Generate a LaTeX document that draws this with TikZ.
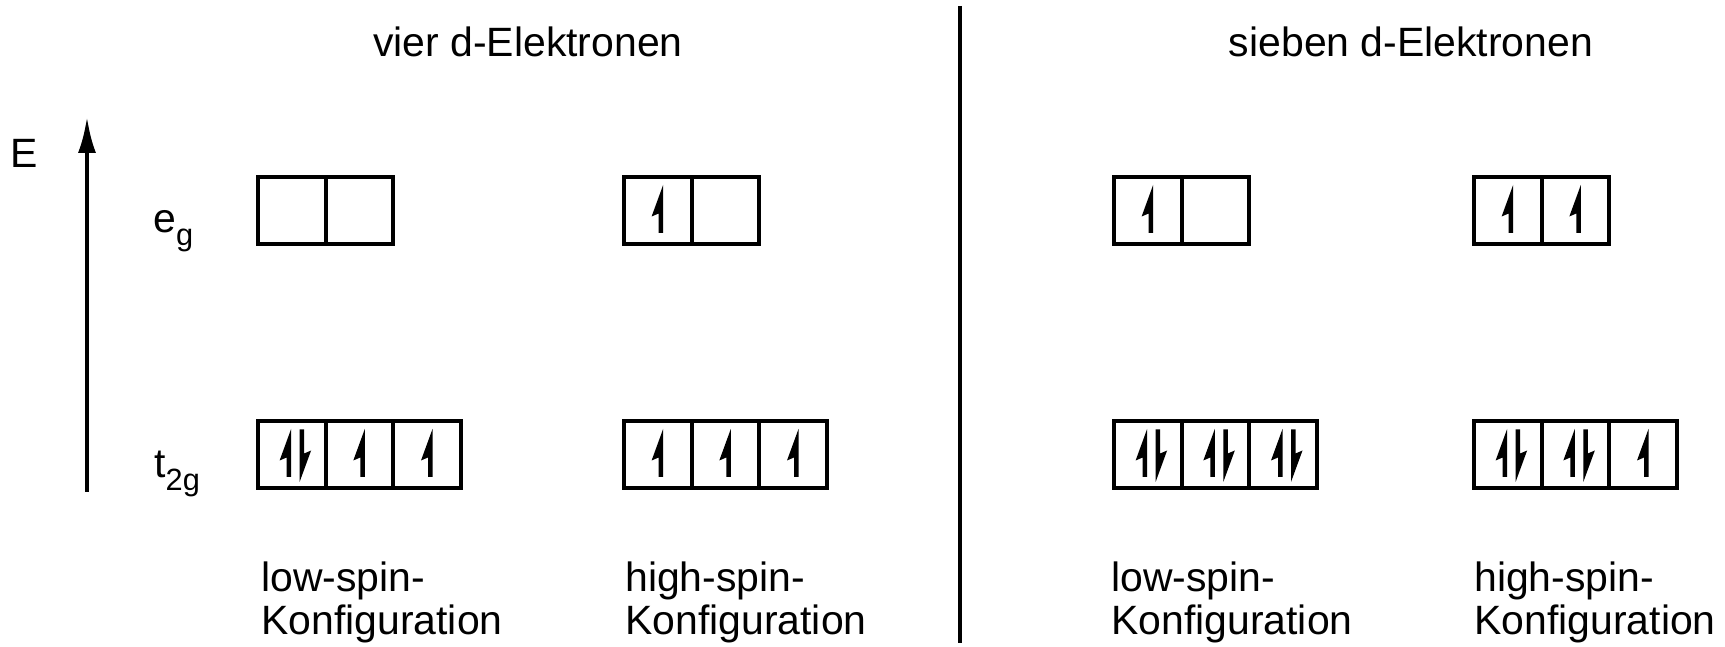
\documentclass[tikz,border=0pt]{standalone}
\usepackage{fontspec}
\setmainfont{Liberation Sans}
\usetikzlibrary{arrows.meta,positioning}

% half arrows for the electrons, drawn at the centre of a cell
\newcommand{\spinup}[2]{%
  \fill[shift={(#1.center)}, xshift=#2] (0.045,-0.45) -- ++(0,0.96) -- ++(-0.23,-0.63) -- ++(0.14,0.06) -- ++(0,-0.39) -- cycle;}
\newcommand{\spindown}[2]{%
  \fill[shift={(#1.center)}, xshift=#2] (-0.045,0.50) -- ++(0,-1.05) -- ++(0.23,0.63) -- ++(-0.14,-0.06) -- ++(0,0.48) -- cycle;}
\newcommand{\spinpair}[1]{\spinup{#1}{-0.06cm}\spindown{#1}{0.2cm}}
\newcommand{\lowidx}[1]{\raisebox{-0.3em}{\fontsize{17.5}{17.5}\selectfont #1}}

\begin{document}
\begin{tikzpicture}[
    cell/.style={draw, line width=0.08cm, minimum width=1.354cm, minimum height=1.34cm, inner sep=0pt, outer sep=0pt},
    lbl/.style={font=\fontsize{23.3}{24.5}\selectfont, inner sep=0pt},
    cfg/.style={lbl, align=left, anchor=base west},
    axis/.style={line width=0.08cm},
  ]
  \useasboundingbox (0,0) rectangle (34.5,12.94);

  % --- Energy axis ---
  \coordinate (ebot) at (1.74,3.1);
  \coordinate (etop) at (1.74,10.6);
  \draw[axis, -{Latex[length=0.72cm, width=0.36cm]}] (ebot) -- (etop);
  \node[lbl] (E) at (0.48,9.88) {E};
  \node[lbl, anchor=base west] (eg) at (3.06,8.28) {e\lowidx{g}};
  \node[lbl, anchor=base west] (t2g) at (3.08,3.38) {t\lowidx{2g}};

  % --- Divider ---
  \coordinate (divtop) at (19.2,12.82);
  \coordinate (divbot) at (19.2,0.08);
  \draw[axis] (divtop) -- (divbot);

  % --- Headings ---
  \node[lbl, anchor=base] (vier) at (10.56,11.8) {vier d-Elektronen};
  \node[lbl, anchor=base] (sieben) at (28.22,11.8) {sieben d-Elektronen};

  % --- vier d-Elektronen, low-spin ---
  \node[cell] (vle1) at (5.837,8.73) {};
  \node[cell, right=0pt of vle1] (vle2) {};
  \node[cell] (vlt1) at (5.837,3.85) {};
  \node[cell, right=0pt of vlt1] (vlt2) {};
  \node[cell, right=0pt of vlt2] (vlt3) {};
  \spinpair{vlt1}
  \spinup{vlt2}{0.06cm}
  \spinup{vlt3}{0.06cm}
  \node[cfg] (vllbl) at (5.22,0.24) {low-spin-\\Konfiguration};

  % --- vier d-Elektronen, high-spin ---
  \node[cell] (vhe1) at (13.157,8.73) {};
  \node[cell, right=0pt of vhe1] (vhe2) {};
  \node[cell] (vht1) at (13.157,3.85) {};
  \node[cell, right=0pt of vht1] (vht2) {};
  \node[cell, right=0pt of vht2] (vht3) {};
  \spinup{vhe1}{0.06cm}
  \spinup{vht1}{0.06cm}
  \spinup{vht2}{0.06cm}
  \spinup{vht3}{0.06cm}
  \node[cfg] (vhlbl) at (12.5,0.24) {high-spin-\\Konfiguration};

  % --- sieben d-Elektronen, low-spin ---
  \node[cell] (sle1) at (22.957,8.73) {};
  \node[cell, right=0pt of sle1] (sle2) {};
  \node[cell] (slt1) at (22.957,3.85) {};
  \node[cell, right=0pt of slt1] (slt2) {};
  \node[cell, right=0pt of slt2] (slt3) {};
  \spinup{sle1}{0.06cm}
  \spinpair{slt1}
  \spinpair{slt2}
  \spinpair{slt3}
  \node[cfg] (sllbl) at (22.22,0.24) {low-spin-\\Konfiguration};

  % --- sieben d-Elektronen, high-spin ---
  \node[cell] (she1) at (30.157,8.73) {};
  \node[cell, right=0pt of she1] (she2) {};
  \node[cell] (sht1) at (30.157,3.85) {};
  \node[cell, right=0pt of sht1] (sht2) {};
  \node[cell, right=0pt of sht2] (sht3) {};
  \spinup{she1}{0.06cm}
  \spinup{she2}{0.06cm}
  \spinpair{sht1}
  \spinpair{sht2}
  \spinup{sht3}{0.06cm}
  \node[cfg] (shlbl) at (29.48,0.24) {high-spin-\\Konfiguration};

\end{tikzpicture}
\end{document}
